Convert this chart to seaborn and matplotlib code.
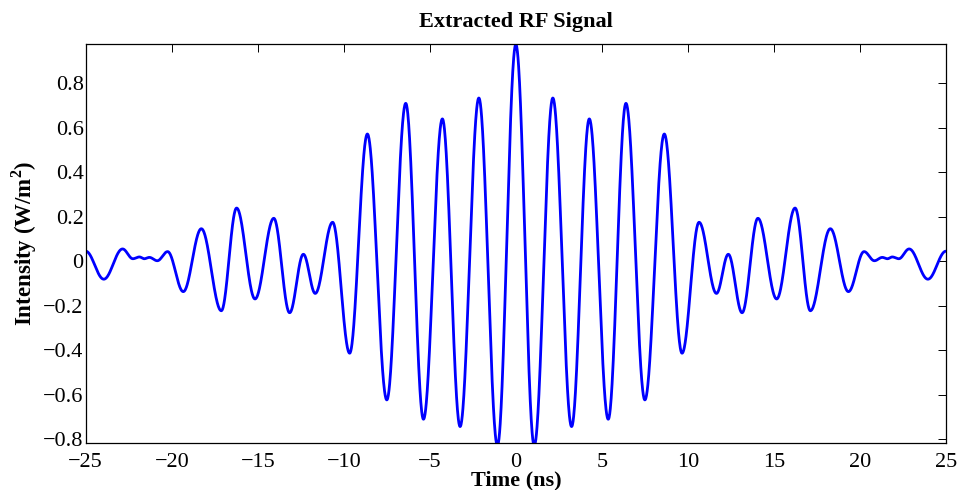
import numpy as np
import pandas as pd
import matplotlib
matplotlib.use("Agg")
import matplotlib.pyplot as plt
import seaborn as sns

# Extrema (time in ns, intensity in W/m^2)
t_ext = [-25.00, -23.95, -22.86, -22.26, -21.88, -21.60, -21.30, -20.84, -20.24,
         -19.33, -18.28, -17.12, -16.23, -15.16, -14.07, -13.15, -12.35, -11.66,
         -10.65, -9.66, -8.63, -7.50, -6.40, -5.37, -4.27, -3.24, -2.15, -1.07,
         0.00,
         1.07, 2.15, 3.24, 4.27, 5.37, 6.40, 7.50, 8.63, 9.66, 10.65,
         11.66, 12.35, 13.15, 14.07, 15.16, 16.23, 17.12, 18.28, 19.33,
         20.24, 20.84, 21.30, 21.60, 21.88, 22.26, 22.86, 23.95, 25.00]
v_ext = [0.045, -0.081, 0.055, 0.011, 0.019, 0.011, 0.017, 0.002, 0.043,
         -0.137, 0.146, -0.223, 0.239, -0.170, 0.193, -0.232, 0.031, -0.145,
         0.175, -0.414, 0.572, -0.624, 0.710, -0.711, 0.640, -0.744, 0.734, -0.830,
         0.975,
         -0.830, 0.734, -0.744, 0.640, -0.711, 0.710, -0.624, 0.572, -0.414, 0.175,
         -0.145, 0.031, -0.232, 0.193, -0.170, 0.239, -0.223, 0.146, -0.137,
         0.043, 0.002, 0.017, 0.011, 0.019, 0.011, 0.055, -0.081, 0.045]

x_ticks = [-25, -20, -15, -10, -5, 0, 5, 10, 15, 20, 25]
y_ticks = [-0.8, -0.6, -0.4, -0.2, 0, 0.2, 0.4, 0.6, 0.8]

# Smooth rendering between extrema (half-cosine segments)
tt, yy = [], []
for i in range(len(t_ext) - 1):
    s = np.linspace(0, 1, 60, endpoint=False)
    tt.append(t_ext[i] + (t_ext[i + 1] - t_ext[i]) * s)
    yy.append(v_ext[i] + (v_ext[i + 1] - v_ext[i]) * (1 - np.cos(np.pi * s)) / 2)
tt.append([t_ext[-1]]); yy.append([v_ext[-1]])
df = pd.DataFrame({"t": np.concatenate(tt), "v": np.concatenate(yy)})

sns.set_theme(style="white")
plt.rcParams["font.family"] = ["Liberation Serif", "DejaVu Serif"]
plt.rcParams["mathtext.fontset"] = "custom"
plt.rcParams["mathtext.rm"] = "Liberation Serif"
plt.rcParams["mathtext.bf"] = "Liberation Serif:bold"
plt.rcParams["text.color"] = "black"
plt.rcParams["axes.labelcolor"] = "black"
plt.rcParams["xtick.color"] = "black"
plt.rcParams["ytick.color"] = "black"

fig = plt.figure(figsize=(9.59, 4.90), dpi=100)
ax = fig.add_axes([0.0894, 0.0959, 0.897, 0.8143])
sns.lineplot(data=df, x="t", y="v", color="#0000ff", linewidth=2.0,
             estimator=None, sort=False, ax=ax)

ax.set_xlim(-25, 25)
ax.set_ylim(-0.818, 0.977)
ax.set_xticks(x_ticks)
ax.set_yticks(y_ticks)
ax.set_xticklabels([str(v) if v >= 0 else "\u2212" + str(-v) for v in x_ticks])
ax.set_yticklabels([("%g" % v).replace("-", "\u2212") for v in y_ticks])
ax.tick_params(direction="in", length=6, width=0.7, top=True, right=True,
               labelsize=16, colors="black")
ax.tick_params(axis="x", pad=7)
ax.tick_params(axis="y", pad=1.5)
for sp in ax.spines.values():
    sp.set_color("black")
    sp.set_linewidth(0.9)

ax.set_title("Extracted RF Signal", fontsize=16, fontweight="bold", pad=12)
ax.set_xlabel("Time (ns)", fontsize=16, fontweight="bold", labelpad=-1)
ax.set_ylabel(r"Intensity (W/m$^\mathbf{2}$)", fontsize=16.5, fontweight="bold", labelpad=3)

fig.savefig("out.png", dpi=100, facecolor="white")
